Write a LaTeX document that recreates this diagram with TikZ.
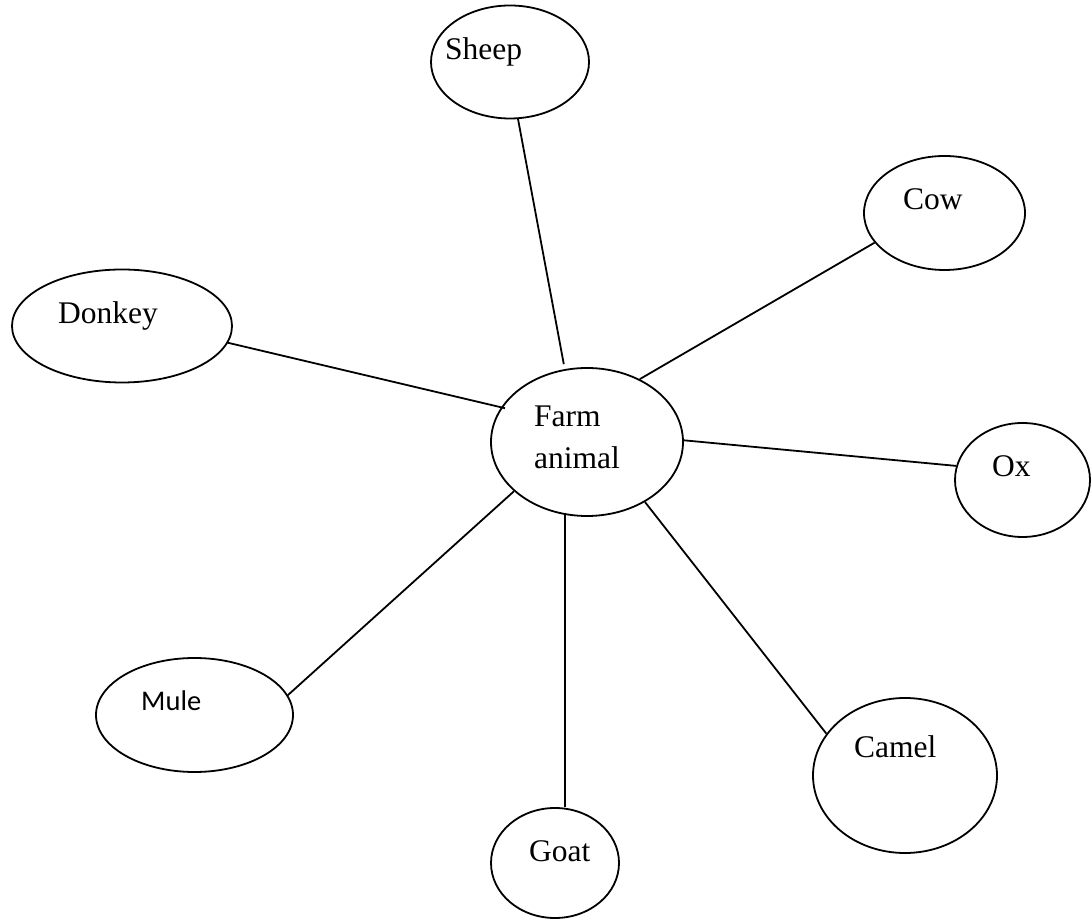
\documentclass[tikz,border=0pt]{standalone}
\usepackage{fontspec}
\setmainfont{Liberation Serif}
\newfontfamily\serfont{Liberation Serif}
\newfontfamily\calfont{Carlito}
\usetikzlibrary{shapes.geometric}
\begin{document}
\begin{tikzpicture}[x=1pt,y=1pt,
  ell/.style={draw=black, line width=1.8pt, ellipse, inner sep=0pt, fill=white},
  txt/.style={inner sep=0pt, anchor=base west, font=\serfont\fontsize{31.5}{38}\selectfont},
  mtxt/.style={inner sep=0pt, anchor=base west, font=\calfont\fontsize{28.5}{34}\selectfont},
  conn/.style={draw=black, line width=1.8pt}]
\fill[white] (0,0) rectangle (1091,920);
\useasboundingbox (0,0) rectangle (1091,920);
% ellipses
\node[ell, minimum width=158pt, minimum height=113pt] (sheep) at (510,858) {};
\node[ell, minimum width=161pt, minimum height=114pt] (cow) at (944.5,707) {};
\node[ell, minimum width=220pt, minimum height=113pt] (donkey) at (122,594) {};
\node[ell, minimum width=192pt, minimum height=148pt] (farm) at (587,478) {};
\node[ell, minimum width=135pt, minimum height=114pt] (ox) at (1022.5,440) {};
\node[ell, minimum width=197pt, minimum height=114pt] (mule) at (194.5,205) {};
\node[ell, minimum width=184pt, minimum height=155pt] (camel) at (905,144.5) {};
\node[ell, minimum width=128pt, minimum height=110pt] (goat) at (555,57) {};
% texts
\node[txt] (sheeptxt) at (445,860) {Sheep};
\node[txt] (cowtxt) at (903,710) {Cow};
\node[txt] (donkeytxt) at (58,596) {Donkey};
\node[txt] (farmtxt1) at (534,493) {Farm};
\node[txt] (farmtxt2) at (534,451) {animal};
\node[txt] (oxtxt) at (992,443) {Ox};
\node[mtxt] (muletxt) at (141,209) {Mule};
\node[txt] (cameltxt) at (854,162) {Camel};
\node[txt] (goattxt) at (529,58) {Goat};
% connectors
\draw[conn, shorten >=5pt] (sheep.278) -- (farm.107.6);
\draw[conn] (cow.203.3) -- (farm.50.6);
\draw[conn, shorten >=-4pt] (donkey.351.2) -- (farm.158.9);
\draw[conn] (farm.1.8) -- (ox.168.3);
\draw[conn] (mule.12.1) -- (farm.214.5);
\draw[conn] (farm.253) -- (farm.253 |- goat.north);
\draw[conn] (farm.314) -- (camel.152);
\end{tikzpicture}
\end{document}
